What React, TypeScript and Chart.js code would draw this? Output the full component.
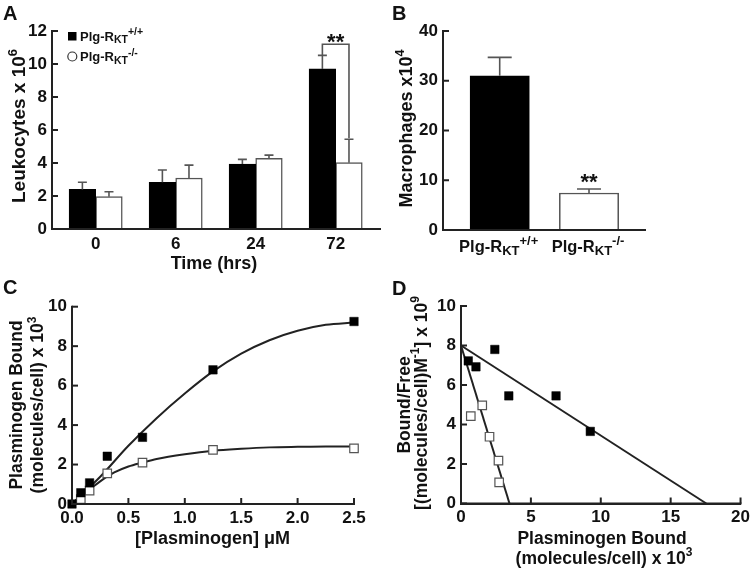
import React, { useEffect, useRef } from "react";
import { Chart, registerables } from "chart.js";

Chart.register(...registerables);

// ---------------- DATA ----------------
// Panel A: leukocytes x 10^6 by time (hrs)
const timeLabels = ["0", "6", "24", "72"];
const wtLeuko = [2.4, 2.83, 3.94, 9.7];
const wtLeukoErr = [0.43, 0.75, 0.28, 0.82];
const koLeuko = [1.96, 3.09, 4.28, 4.02];
const koLeukoErr = [0.3, 0.78, 0.2, 1.42];
const sigBracketA = [10.55, 11.2, 5.5]; // left end, top, right end

// Panel B: macrophages x 10^4
const genotypes = ["+/+", "-/-"];
const macro = [31.0, 7.44];
const macroErr = [3.7, 0.8];

// Panel C: plasminogen binding (molecules/cell x 10^3) vs [Plasminogen] uM
const cWtX = [0, 0.078, 0.156, 0.3125, 0.625, 1.25, 2.5];
const cWtY = [0, 0.57, 1.07, 2.42, 3.38, 6.8, 9.25];
const cKoX = [0.078, 0.156, 0.3125, 0.625, 1.25, 2.5];
const cKoY = [0.25, 0.68, 1.55, 2.1, 2.74, 2.82];
const cWtFitX = [0, 0.25, 0.5, 0.75, 1.0, 1.25, 1.5, 1.75, 2.0, 2.25, 2.5];
const cWtFitY = [0, 1.38, 2.95, 4.35, 5.6, 6.72, 7.62, 8.3, 8.78, 9.08, 9.2];
const cKoFitX = [0, 0.125, 0.25, 0.375, 0.5, 0.625, 0.75, 1.0, 1.25, 1.5, 1.75, 2.0, 2.25, 2.5];
const cKoFitY = [0, 0.6, 1.15, 1.6, 1.9, 2.1, 2.28, 2.52, 2.7, 2.8, 2.87, 2.9, 2.92, 2.92];

// Panel D: Scatchard plot
const dWtX = [0.52, 1.07, 2.42, 3.42, 6.8, 9.25];
const dWtY = [7.22, 6.92, 7.8, 5.45, 5.45, 3.65];
const dKoX = [0.7, 1.52, 2.04, 2.68, 2.73];
const dKoY = [4.42, 4.97, 3.38, 2.17, 1.07];
const dWtFitX = [0, 17.55];
const dWtFitY = [8.0, 0];
const dKoFitX = [0, 3.47];
const dKoFitY = [8.0, 0];

// ---------------- HELPERS ----------------
const FONT = '"Liberation Sans", Arial, Helvetica, sans-serif';
const INK = "#111";
const AXIS = "#222";
const GREY = "#555";

type Seg = [string, ("sub" | "sup")?];

function drawRich(
  ctx: CanvasRenderingContext2D,
  segs: Seg[],
  x: number,
  y: number,
  size: number,
  small: number,
  align: "left" | "center" = "left"
) {
  ctx.save();
  const ws: number[] = [];
  let total = 0;
  segs.forEach(([t, k]) => {
    ctx.font = `bold ${k ? small : size}px ${FONT}`;
    const w = ctx.measureText(t).width;
    ws.push(w);
    total += w;
  });
  let cx = align === "center" ? x - total / 2 : x;
  ctx.textAlign = "left";
  ctx.textBaseline = "alphabetic";
  ctx.fillStyle = INK;
  segs.forEach(([t, k], i) => {
    ctx.font = `bold ${k ? small : size}px ${FONT}`;
    const dy = k === "sub" ? size * 0.22 : k === "sup" ? -size * 0.42 : 0;
    ctx.fillText(t, cx, y + dy);
    cx += ws[i];
  });
  ctx.restore();
}

function drawRichRot(
  ctx: CanvasRenderingContext2D,
  segs: Seg[],
  baseX: number,
  centerY: number,
  size: number,
  small: number
) {
  ctx.save();
  ctx.translate(baseX, centerY);
  ctx.rotate(-Math.PI / 2);
  drawRich(ctx, segs, 0, 0, size, small, "center");
  ctx.restore();
}

function letter(ctx: CanvasRenderingContext2D, t: string, x: number, y: number) {
  ctx.save();
  ctx.font = `bold 20px ${FONT}`;
  ctx.fillStyle = INK;
  ctx.textAlign = "left";
  ctx.textBaseline = "alphabetic";
  ctx.fillText(t, x, y);
  ctx.restore();
}

type Geo = { w: number; h: number; L: number; R: number; T: number; B: number; ox: number; oy: number };

function yAxisBase(g: Geo, min: number, max: number, step: number) {
  return {
    type: "linear" as const,
    min,
    max,
    afterFit: (s: any) => {
      s.width = g.L;
    },
    grid: { display: false, drawTicks: false },
    border: { display: true, color: AXIS, width: 2 },
    ticks: {
      stepSize: step,
      padding: 5,
      color: INK,
      font: { family: FONT, size: 17, weight: "bold" as const },
    },
  };
}

// axis lines plus inward tick marks
function axesAndTicks(tickAxes: string[], len = 6) {
  return {
    id: "axesAndTicks",
    afterDraw(chart: any) {
      const ctx = chart.ctx as CanvasRenderingContext2D;
      const a = chart.chartArea;
      const sx = chart.scales.x;
      ctx.save();
      ctx.strokeStyle = AXIS;
      ctx.lineWidth = 2;
      ctx.lineCap = "square";
      ctx.beginPath();
      ctx.moveTo(a.left, a.top);
      ctx.lineTo(a.left, a.bottom);
      ctx.lineTo(sx.right, a.bottom);
      ctx.stroke();
      ctx.lineCap = "butt";
      tickAxes.forEach((id) => {
        const s = chart.scales[id];
        s.ticks.forEach((t: any) => {
          const p = s.getPixelForValue(t.value);
          ctx.beginPath();
          if (id === "y") {
            ctx.moveTo(a.left, p);
            ctx.lineTo(a.left + len, p);
          } else {
            ctx.moveTo(p, a.bottom);
            ctx.lineTo(p, a.bottom - len);
          }
          ctx.stroke();
        });
      });
      ctx.restore();
    },
  };
}

function errorBars(errs: number[][], capW: number) {
  return {
    id: "errorBars",
    afterDatasetsDraw(chart: any) {
      const ctx = chart.ctx as CanvasRenderingContext2D;
      const ys = chart.scales.y;
      ctx.save();
      ctx.strokeStyle = GREY;
      ctx.lineWidth = 1.6;
      chart.data.datasets.forEach((ds: any, di: number) => {
        const meta = chart.getDatasetMeta(di);
        meta.data.forEach((el: any, i: number) => {
          const d = ds.data[i];
          const v = typeof d === "number" ? d : d.y;
          const top = ys.getPixelForValue(v + errs[di][i]);
          ctx.beginPath();
          ctx.moveTo(el.x, el.y);
          ctx.lineTo(el.x, top);
          ctx.moveTo(el.x - capW / 2, top);
          ctx.lineTo(el.x + capW / 2, top);
          ctx.stroke();
        });
      });
      ctx.restore();
    },
  };
}

function stars(ctx: CanvasRenderingContext2D, cx: number, vc: number) {
  ctx.save();
  ctx.font = `bold 22px ${FONT}`;
  ctx.fillStyle = INK;
  ctx.textAlign = "center";
  ctx.textBaseline = "alphabetic";
  ctx.fillText("**", cx, vc + 22 * 0.58);
  ctx.restore();
}

// ---------------- PANELS ----------------
const geoA: Geo = { w: 382, h: 275, L: 52, R: 380, T: 31, B: 229, ox: 0, oy: 0 };
const geoB: Geo = { w: 372, h: 275, L: 61, R: 263, T: 31, B: 230, ox: 382, oy: 0 };
const geoC: Geo = { w: 380, h: 298, L: 72, R: 354, T: 31.7, B: 229, ox: 0, oy: 275 };
const geoD: Geo = { w: 374, h: 298, L: 81, R: 361.7, T: 31, B: 228.5, ox: 380, oy: 275 };

function layout(g: Geo) {
  return { padding: { left: 0, top: g.T, right: g.w - g.R, bottom: 0 } };
}

function makeA(canvas: HTMLCanvasElement) {
  const g = geoA;
  const deco = {
    id: "decoA",
    afterDraw(chart: any) {
      const ctx = chart.ctx as CanvasRenderingContext2D;
      const ys = chart.scales.y;
      letter(ctx, "A", 3, 20);
      drawRichRot(ctx, [["Leukocytes x 10"], ["6", "sup"]], 24.5, 126, 19, 13);
      drawRich(ctx, [["Time (hrs)"]], 214, 268.5, 18, 12, "center");
      // legend
      ctx.save();
      ctx.fillStyle = "#000";
      ctx.fillRect(68, 32, 8.5, 8.5);
      ctx.strokeStyle = "#333";
      ctx.lineWidth = 1.2;
      ctx.beginPath();
      ctx.arc(72.3, 56.5, 4.5, 0, Math.PI * 2);
      ctx.stroke();
      ctx.restore();
      drawRich(ctx, [["Plg-R"], ["KT", "sub"], ["+/+", "sup"]], 80, 40.5, 13, 10.5);
      drawRich(ctx, [["Plg-R"], ["KT", "sub"], ["-/-", "sup"]], 80, 61, 13, 10.5);
      // significance bracket
      const m0 = chart.getDatasetMeta(0).data[3];
      const m1 = chart.getDatasetMeta(1).data[3];
      const yTop = ys.getPixelForValue(sigBracketA[1]);
      ctx.save();
      ctx.strokeStyle = GREY;
      ctx.lineWidth = 1.6;
      ctx.beginPath();
      ctx.moveTo(m0.x, ys.getPixelForValue(sigBracketA[0]));
      ctx.lineTo(m0.x, yTop);
      ctx.lineTo(m1.x, yTop);
      ctx.lineTo(m1.x, ys.getPixelForValue(sigBracketA[2]));
      ctx.stroke();
      ctx.restore();
      stars(ctx, (m0.x + m1.x) / 2, 36);
    },
  };
  return new Chart(canvas, {
    type: "bar",
    data: {
      datasets: [
        {
          label: "Plg-RKT+/+",
          data: wtLeuko.map((y, i) => ({ x: i, y })),
          backgroundColor: "#000",
          borderColor: "#000",
          borderWidth: 1,
          barThickness: 26.6,
        },
        {
          label: "Plg-RKT-/-",
          data: koLeuko.map((y, i) => ({ x: i, y })),
          backgroundColor: "#fff",
          borderColor: GREY,
          borderWidth: 1.5,
          barThickness: 26.6,
        },
      ],
    },
    options: {
      responsive: false,
      animation: false,
      layout: layout(g),
      plugins: { legend: { display: false }, tooltip: { enabled: false } },
      scales: {
        x: {
          type: "linear",
          offset: false,
          min: -0.546,
          max: 3.554,
          afterFit: (s: any) => {
            s.height = g.h - g.B;
          },
          afterBuildTicks: (s: any) => {
            s.ticks = timeLabels.map((_, i) => ({ value: i }));
          },
          grid: { display: false, drawTicks: false },
          border: { display: true, color: AXIS, width: 2 },
          ticks: {
            padding: 5,
            color: INK,
            font: { family: FONT, size: 17, weight: "bold" },
            callback: (v: any) => timeLabels[v] ?? "",
          },
        },
        y: yAxisBase(g, 0, 12, 2),
      },
    },
    plugins: [errorBars([wtLeukoErr, koLeukoErr], 9), axesAndTicks(["y"]), deco],
  } as any);
}

function makeB(canvas: HTMLCanvasElement) {
  const g = geoB;
  const deco = {
    id: "decoB",
    afterDraw(chart: any) {
      const ctx = chart.ctx as CanvasRenderingContext2D;
      const meta = chart.getDatasetMeta(0).data;
      letter(ctx, "B", 392 - g.ox, 20);
      drawRichRot(ctx, [["Macrophages x10"], ["4", "sup"]], 411.5 - g.ox, 128.5, 18, 12.5);
      genotypes.forEach((gt, i) => {
        drawRich(ctx, [["Plg-R"], ["KT", "sub"], [gt, "sup"]], meta[i].x - 1, 251.5, 16.5, 13, "center");
      });
      stars(ctx, meta[1].x, 176.5);
    },
  };
  return new Chart(canvas, {
    type: "bar",
    data: {
      datasets: [
        {
          label: "Macrophages",
          data: macro.map((y, i) => ({ x: i, y })),
          backgroundColor: ["#000", "#fff"],
          borderColor: ["#000", GREY],
          borderWidth: [1, 1.5],
          barThickness: 59.3,
        },
      ],
    },
    options: {
      responsive: false,
      animation: false,
      layout: layout(g),
      plugins: { legend: { display: false }, tooltip: { enabled: false } },
      scales: {
        x: {
          type: "linear",
          offset: false,
          min: -0.635,
          max: 1.627,
          afterFit: (s: any) => {
            s.height = g.h - g.B;
          },
          afterBuildTicks: (s: any) => {
            s.ticks = genotypes.map((_, i) => ({ value: i }));
          },
          grid: { display: false, drawTicks: false },
          border: { display: true, color: AXIS, width: 2 },
          ticks: { display: false },
        },
        y: yAxisBase(g, 0, 40, 10),
      },
    },
    plugins: [errorBars([macroErr], 24), axesAndTicks(["y"]), deco],
  } as any);
}

function pts(xs: number[], ys: number[]) {
  return xs.map((x, i) => ({ x, y: ys[i] }));
}

function markerSet(label: string, xs: number[], ys: number[], filled: boolean) {
  return {
    label,
    data: pts(xs, ys),
    showLine: false,
    pointStyle: "rect",
    pointRadius: 6,
    pointBackgroundColor: filled ? "#000" : "#fff",
    pointBorderColor: filled ? "#000" : GREY,
    pointBorderWidth: filled ? 0.5 : 1.2,
    clip: false,
  };
}

function curveSet(label: string, xs: number[], ys: number[], smooth: boolean) {
  return {
    label,
    data: pts(xs, ys),
    showLine: true,
    pointRadius: 0,
    borderColor: "#222",
    borderWidth: 2,
    tension: smooth ? 0.4 : 0,
    cubicInterpolationMode: smooth ? "monotone" : "default",
    clip: false,
  };
}

function xAxisNum(g: Geo, min: number, max: number, step: number, fmt: (v: number) => string) {
  return {
    type: "linear" as const,
    min,
    max,
    offset: false,
    afterFit: (s: any) => {
      s.height = g.h - g.B;
    },
    grid: { display: false, drawTicks: false },
    border: { display: true, color: AXIS, width: 2 },
    ticks: {
      stepSize: step,
      padding: 4,
      color: INK,
      maxRotation: 0,
      font: { family: FONT, size: 17, weight: "bold" as const },
      callback: (v: any) => fmt(Number(v)),
    },
  };
}

function makeC(canvas: HTMLCanvasElement) {
  const g = geoC;
  const deco = {
    id: "decoC",
    afterDraw(chart: any) {
      const ctx = chart.ctx as CanvasRenderingContext2D;
      letter(ctx, "C", 3, 294 - g.oy);
      const cy = 405 - g.oy;
      drawRichRot(ctx, [["Plasminogen Bound"]], 21.5, cy, 17.5, 12);
      drawRichRot(ctx, [["(molecules/cell) x 10"], ["3", "sup"]], 43, cy, 17.5, 12);
      drawRich(ctx, [["[Plasminogen] μM"]], 212.5, 544 - g.oy, 18, 12, "center");
    },
  };
  return new Chart(canvas, {
    type: "line",
    data: {
      datasets: [
        markerSet("Plg-RKT+/+", cWtX, cWtY, true),
        markerSet("Plg-RKT-/-", cKoX, cKoY, false),
        curveSet("fit +/+", cWtFitX, cWtFitY, true),
        curveSet("fit -/-", cKoFitX, cKoFitY, true),
      ],
    },
    options: {
      responsive: false,
      animation: false,
      layout: layout(g),
      plugins: { legend: { display: false }, tooltip: { enabled: false } },
      scales: {
        x: xAxisNum(g, 0, 2.5, 0.5, (v) => v.toFixed(1)),
        y: yAxisBase(g, 0, 10, 2),
      },
    },
    plugins: [axesAndTicks(["x", "y"]), deco],
  } as any);
}

function makeD(canvas: HTMLCanvasElement) {
  const g = geoD;
  const deco = {
    id: "decoD",
    afterDraw(chart: any) {
      const ctx = chart.ctx as CanvasRenderingContext2D;
      letter(ctx, "D", 392 - g.ox, 295 - g.oy);
      drawRichRot(ctx, [["Bound/Free"]], 410 - g.ox, 405 - g.oy, 17.5, 12);
      drawRichRot(
        ctx,
        [["[(molecules/cell)M"], ["-1", "sup"], ["] x 10"], ["9", "sup"]],
        426.5 - g.ox,
        403 - g.oy,
        17.5,
        12
      );
      drawRich(ctx, [["Plasminogen Bound"]], 602 - g.ox, 543.5 - g.oy, 17.5, 12, "center");
      drawRich(ctx, [["(molecules/cell) x 10"], ["3", "sup"]], 604 - g.ox, 563.5 - g.oy, 17.5, 12, "center");
    },
  };
  return new Chart(canvas, {
    type: "line",
    data: {
      datasets: [
        markerSet("Plg-RKT+/+", dWtX, dWtY, true),
        markerSet("Plg-RKT-/-", dKoX, dKoY, false),
        curveSet("fit +/+", dWtFitX, dWtFitY, false),
        curveSet("fit -/-", dKoFitX, dKoFitY, false),
      ],
    },
    options: {
      responsive: false,
      animation: false,
      layout: layout(g),
      plugins: { legend: { display: false }, tooltip: { enabled: false } },
      scales: {
        x: xAxisNum(g, 0, 20, 5, (v) => String(v)),
        y: yAxisBase(g, 0, 10, 2),
      },
    },
    plugins: [axesAndTicks(["x", "y"]), deco],
  } as any);
}

export default function App() {
  const refA = useRef<HTMLCanvasElement>(null);
  const refB = useRef<HTMLCanvasElement>(null);
  const refC = useRef<HTMLCanvasElement>(null);
  const refD = useRef<HTMLCanvasElement>(null);

  useEffect(() => {
    const charts = [
      makeA(refA.current!),
      makeB(refB.current!),
      makeC(refC.current!),
      makeD(refD.current!),
    ];
    return () => charts.forEach((c) => c.destroy());
  }, []);

  const pos = (g: Geo): React.CSSProperties => ({
    position: "absolute",
    left: g.ox,
    top: g.oy,
    width: g.w,
    height: g.h,
  });

  return (
    <div style={{ position: "absolute", left: 0, top: 0, width: 754, height: 573, background: "#fff", overflow: "hidden" }}>
      <canvas ref={refA} width={geoA.w} height={geoA.h} style={pos(geoA)} />
      <canvas ref={refB} width={geoB.w} height={geoB.h} style={pos(geoB)} />
      <canvas ref={refC} width={geoC.w} height={geoC.h} style={pos(geoC)} />
      <canvas ref={refD} width={geoD.w} height={geoD.h} style={pos(geoD)} />
    </div>
  );
}
